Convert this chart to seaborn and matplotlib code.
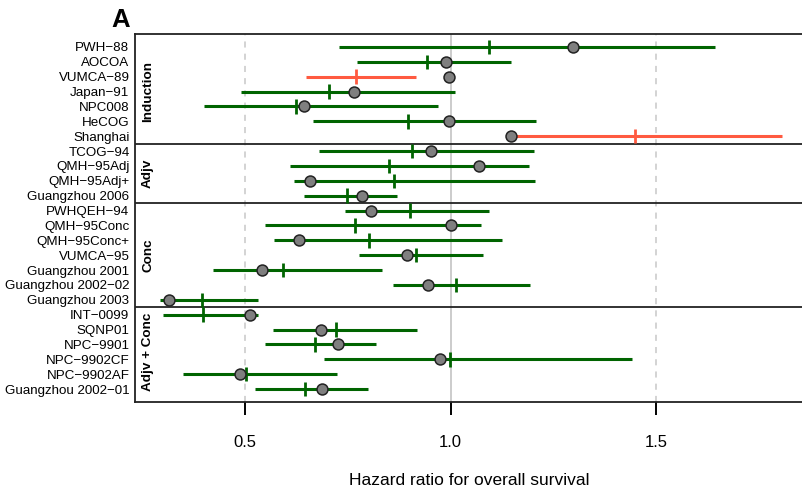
import numpy as np
import pandas as pd
import matplotlib
matplotlib.use("Agg")
import matplotlib.pyplot as plt
import seaborn as sns

# Trials, grouped by treatment timing
studies = ["PWH-88", "AOCOA", "VUMCA-89", "Japan-91", "NPC008", "HeCOG", "Shanghai",
           "TCOG-94", "QMH-95Adj", "QMH-95Adj+", "Guangzhou 2006",
           "PWHQEH-94", "QMH-95Conc", "QMH-95Conc+", "VUMCA-95", "Guangzhou 2001",
           "Guangzhou 2002-02", "Guangzhou 2003",
           "INT-0099", "SQNP01", "NPC-9901", "NPC-9902CF", "NPC-9902AF", "Guangzhou 2002-01"]
group_names = ["Induction", "Adjv", "Conc", "Adjv + Conc"]
group_sizes = [7, 4, 7, 6]

# Observed hazard ratio (circle)
hr_obs = [1.297, 0.990, 0.996, 0.766, 0.643, 0.996, 1.147,
          0.953, 1.070, 0.659, 0.785,
          0.807, 1.001, 0.630, 0.894, 0.541, 0.945, 0.314,
          0.511, 0.685, 0.727, 0.975, 0.487, 0.687]
# Interval estimate: centre (tick), lower and upper limits
hr_est = [1.094, 0.942, 0.770, 0.704, 0.623, 0.897, 1.449,
          0.906, 0.851, 0.863, 0.748,
          0.902, 0.768, 0.802, 0.915, 0.593, 1.013, 0.394,
          0.398, 0.721, 0.670, 0.999, 0.502, 0.646]
ci_low = [0.729, 0.773, 0.648, 0.490, 0.400, 0.666, 1.147,
          0.681, 0.609, 0.618, 0.644,
          0.743, 0.549, 0.571, 0.777, 0.421, 0.859, 0.293,
          0.299, 0.569, 0.549, 0.691, 0.349, 0.523]
ci_high = [1.644, 1.147, 0.915, 1.011, 0.969, 1.209, 1.807,
           1.204, 1.190, 1.206, 0.869,
           1.094, 1.074, 1.125, 1.079, 0.833, 1.194, 0.532,
           0.532, 0.918, 0.819, 1.442, 0.724, 0.799]
# Observed value falls outside the interval
outside = [False, False, True, False, False, False, True] + [False] * 17

xticks = [0.5, 1.0, 1.5]
xticklabels = ["0.5", "1.0", "1.5"]

df = pd.DataFrame({
    "study": studies,
    "row": np.arange(len(studies)),
    "obs": hr_obs, "est": hr_est, "lo": ci_low, "hi": ci_high,
    "flag": np.where(outside, "out", "in"),
})
palette = {"in": "#006400", "out": "#ff5a40"}

sns.set_theme(style="ticks")
plt.rcParams["font.family"] = ["Liberation Sans", "DejaVu Sans"]
plt.rcParams.update({"text.color": "black", "axes.labelcolor": "black",
                     "xtick.color": "black", "ytick.color": "black"})

fig = plt.figure(figsize=(8.03, 4.93), dpi=100)
ax = fig.add_axes([135 / 803, 1 - 402 / 493, 1 - 135 / 803, (402 - 34) / 493])

# reference lines
for v in xticks:
    if v == 1.0:
        ax.axvline(v, color="#c8c8c8", lw=1.3, zorder=0)
    else:
        ax.axvline(v, color="#c8c8c8", lw=1.1, ls=(0, (4, 4)), zorder=0)

# intervals, interval centres and observed values
ax.hlines(df["row"], df["lo"], df["hi"], colors=df["flag"].map(palette), lw=2.2, zorder=2)
sns.scatterplot(data=df, x="est", y="row", hue="flag", palette=palette, marker="|",
                s=110, linewidth=2.0, legend=False, ax=ax, zorder=3)
sns.scatterplot(data=df, x="obs", y="row", color="#7f7f7f", edgecolor="#222222",
                s=62, linewidth=1.1, legend=False, ax=ax, zorder=4)

# group separators and labels
bounds = np.cumsum(group_sizes)
for b in bounds[:-1]:
    ax.axhline(b - 0.5, color="#222222", lw=1.3, zorder=1)
start = 0
for name, n in zip(group_names, group_sizes):
    ax.text(0.264, start + (n - 1) / 2, name, rotation=90, ha="center", va="center",
            fontsize=9.7, fontweight="bold", color="black")
    start += n

ax.set_xlim(0.232, 1.858)
ax.set_ylim(len(studies) - 1 + 0.87, -0.87)
ax.set_yticks(df["row"])
ax.set_yticklabels([s.replace("-", "\u2212") for s in studies], fontsize=9.6)
ax.set_xticks(xticks)
ax.set_xticklabels(xticklabels, fontsize=12)
ax.tick_params(axis="y", left=False, length=0, pad=4)
ax.tick_params(axis="x", direction="out", length=9.5, width=1.4, color="black",
               pad=14, bottom=True)

ax.set_xlabel("Hazard ratio for overall survival", fontsize=12.5, labelpad=17)
ax.set_ylabel("")
for side in ["left", "top", "bottom"]:
    ax.spines[side].set_visible(True)
    ax.spines[side].set_color("#222222")
    ax.spines[side].set_linewidth(1.3)
ax.spines["right"].set_visible(False)

fig.text(121 / 803, 1 - 27 / 493, "A", fontsize=18.5, fontweight="bold",
         ha="center", va="baseline")

fig.savefig("out.png", dpi=100)
